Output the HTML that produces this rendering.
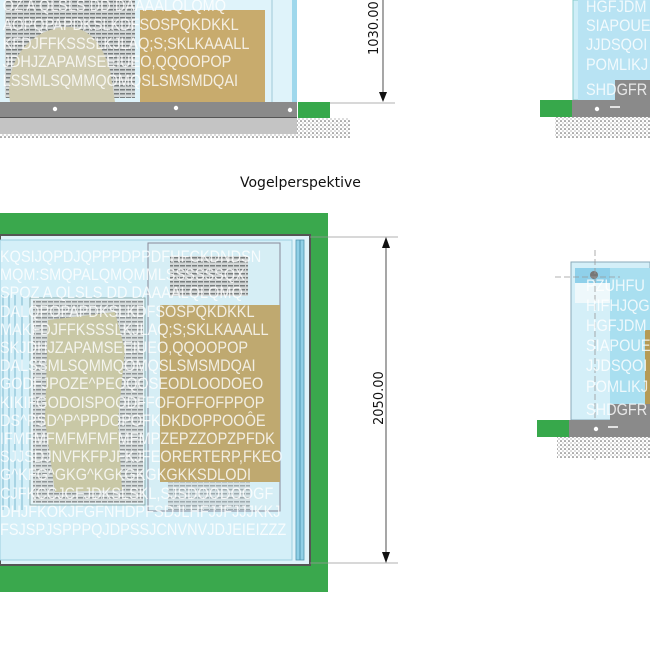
<!DOCTYPE html>
<html><head><meta charset="utf-8"><style>
html,body{margin:0;padding:0;background:#fff;width:650px;height:650px;overflow:hidden}
svg{display:block}
.w{fill:#fff;fill-opacity:.8;font-family:"Liberation Sans",sans-serif;font-size:16.5px}
.dim{font-family:"DejaVu Sans","Liberation Sans",sans-serif;font-size:13px;fill:#111}
</style></head><body>
<svg width="650" height="650" viewBox="0 0 650 650" xmlns="http://www.w3.org/2000/svg">
<defs>
<pattern id="dots" width="4" height="4" patternUnits="userSpaceOnUse"><rect width="4" height="4" fill="#fff"/><circle cx="1" cy="1" r="0.8" fill="#555"/><circle cx="3" cy="3" r="0.6" fill="#888"/></pattern>
<pattern id="txt" width="6" height="4" patternUnits="userSpaceOnUse"><rect width="6" height="4" fill="#d4d8d8"/><rect x="0" y="1" width="5" height="1.5" fill="#7a7f80"/></pattern>
</defs>

<!-- TOP ELEVATION -->
<rect x="0" y="0" width="297" height="102" fill="#dff3fa"/>
<rect x="5" y="0" width="130" height="98" fill="url(#txt)"/>
<path d="M10 102 C5 70 20 40 50 30 C80 20 100 35 110 70 L115 102 Z" fill="#cfcbb0"/>
<rect x="140" y="10" width="125" height="92" fill="#c8ab6d"/>
<line x1="272" y1="0" x2="272" y2="102" stroke="#9fc9d8"/>
<rect x="292" y="0" width="5" height="102" fill="#9fd8ec"/>
<g class="w" transform="scale(0.88,1)">
<text x="3" y="11">OZ A QLSLS DD DAAAALQLQMQ</text>
<text x="3" y="30">AOPQPAPDKSLKDFSOSPQKDKKL</text>
<text x="3" y="49">KFDJFFKSSSLKJLAQ;S;SKLKAAALL</text>
<text x="3" y="67">JDHJZAPAMSEEIUEO,QQOOPOP</text>
<text x="3" y="86">LSSMLSQMMQOMQSLSMSMDQAI</text>
</g>
<rect x="0" y="102" width="297" height="16" fill="#8a8a8a"/>
<rect x="0" y="117" width="297" height="1.5" fill="#555"/>
<rect x="0" y="118" width="297" height="16" fill="#c4c4c4"/>
<rect x="0" y="134" width="297" height="4" fill="url(#dots)"/>
<circle cx="55" cy="109" r="2.2" fill="#fff"/><circle cx="176" cy="108" r="2.2" fill="#fff"/><circle cx="290" cy="110" r="2.2" fill="#fff"/>
<rect x="298" y="102" width="32" height="16" fill="#37a84b"/>
<rect x="297" y="118" width="53" height="20" fill="url(#dots)"/>
<line x1="330" y1="103" x2="395" y2="103" stroke="#999" stroke-width="0.8"/>
<line x1="383" y1="0" x2="383" y2="96" stroke="#222" stroke-width="0.8"/>
<path d="M379 92 L387 92 L383 102 Z" fill="#111"/>
<text class="dim" transform="translate(378,55) rotate(-90)">1030.00</text>

<text x="240" y="187" font-family="DejaVu Sans, Liberation Sans, sans-serif" font-size="14" fill="#111">Vogelperspektive</text>

<!-- PLAN -->
<rect x="0" y="213" width="328" height="379" fill="#3aa84d"/>
<rect x="0" y="235" width="310" height="330" fill="#dff3fa"/>
<rect x="0" y="235" width="310" height="330" fill="none" stroke="#555" stroke-width="2"/>
<rect x="0" y="240" width="292" height="320" fill="#d4eff8" stroke="#9ccfe0"/>
<rect x="296" y="240" width="8" height="320" fill="#8fcfe6" stroke="#4f95b0" stroke-width="0.8"/>
<line x1="300" y1="240" x2="300" y2="560" stroke="#4f95b0"/>
<g stroke="#7db8d0"><line x1="3" y1="295" x2="3" y2="510"/><line x1="9" y1="295" x2="9" y2="510"/><line x1="15" y1="295" x2="15" y2="510"/><line x1="22" y1="295" x2="22" y2="510"/></g>
<rect x="30" y="298" width="115" height="207" fill="#e6f4f8" stroke="#8aa"/>
<rect x="33" y="300" width="110" height="203" fill="url(#txt)" opacity=".8"/>
<path d="M48 320 L115 312 L125 350 L118 420 L122 490 L55 492 L45 420 Z" fill="#c9c8a6"/>
<rect x="148" y="243" width="132" height="268" fill="#d6eef5" stroke="#889"/>
<rect x="170" y="256" width="78" height="40" fill="url(#txt)"/>
<rect x="160" y="305" width="120" height="177" fill="#bfa970"/>
<rect x="168" y="482" width="82" height="28" fill="url(#txt)" opacity=".6"/>
<g class="w" transform="scale(0.88,1)">
<text x="0" y="262">KQSIJQPDJQPPPDPPDFHFCKDNDSN</text>
<text x="0" y="280">MQM:SMQPALQMQMMLSSSSSSQX</text>
<text x="0" y="298">SPOZ A QLSLS DD DAAAALQLQMQ</text>
<text x="0" y="317">DALQPOPAPDKSLKDFSOSPQKDKKL</text>
<text x="0" y="335">MAKFDJFFKSSSLKJLAQ;S;SKLKAAALL</text>
<text x="0" y="353">SKJDHJZAPAMSEEIUEO,QQOOPOP</text>
<text x="0" y="371">DALSSMLSQMMQOMQSLSMSMDQAI</text>
<text x="0" y="389">GODFJPOZE^PEOQOSEODLOODOEO</text>
<text x="0" y="408">KIKIFGODOISPOODFFOFOFFOFPPOP</text>
<text x="0" y="426">DS^PSD^P^PPDOPOFKDKDOPPOOÔE</text>
<text x="0" y="444">IFMFMFMFMFMFMFMPZEPZZOPZPFDK</text>
<text x="0" y="462">SJJSDJNVFKFPJFKJFEORERTERP,FKEO</text>
<text x="0" y="480">G^KFG^GKG^KGKGKGKGKKSDLODI</text>
<text x="0" y="499">CJFKCCJCFJDKSLSKL,SJSDOODOOGF</text>
<text x="0" y="517">DHJFKOKJFGFNHDPFSDJLHFJJFJJJKKJ</text>
<text x="0" y="535">FSJSPJSPPPQJDPSSJCNVNVJDJEIEIZZZ</text>
</g>
<line x1="310" y1="237" x2="398" y2="237" stroke="#999" stroke-width="0.8"/>
<line x1="310" y1="563" x2="398" y2="563" stroke="#999" stroke-width="0.8"/>
<line x1="386" y1="245" x2="386" y2="555" stroke="#222" stroke-width="0.8"/>
<path d="M382 248 L390 248 L386 237 Z" fill="#111"/>
<path d="M382 552 L390 552 L386 563 Z" fill="#111"/>
<text class="dim" transform="translate(383,425) rotate(-90)">2050.00</text>

<!-- RIGHT TOP -->
<rect x="573" y="0" width="77" height="100" fill="#cfeef8" stroke="#8cc"/>
<rect x="578" y="0" width="72" height="100" fill="#b8e3f3"/>
<rect x="615" y="80" width="35" height="20" fill="#8a8a8a"/>
<g class="w" transform="translate(586,0) scale(0.88,1)">
<text x="0" y="12">HGFJDM</text><text x="0" y="31">SIAPOUE</text><text x="0" y="50">JJDSQOI</text><text x="0" y="70">POMLIKJ</text><text x="0" y="95">SHDGFR</text>
</g>
<rect x="572" y="100" width="78" height="17" fill="#8a8a8a"/>
<circle cx="597" cy="109" r="2.2" fill="#fff"/><line x1="610" y1="107" x2="620" y2="107" stroke="#fff" stroke-width="1.5"/>
<rect x="540" y="100" width="32" height="17" fill="#37a84b"/>
<rect x="555" y="117" width="95" height="21" fill="url(#dots)"/>

<!-- RIGHT BOTTOM -->
<rect x="571" y="262" width="79" height="158" fill="#d4eff8" stroke="#8aaab8"/>
<rect x="575" y="268" width="75" height="15" fill="#8fd0ea"/>
<rect x="575" y="283" width="75" height="20" fill="#eef8fb"/>
<rect x="610" y="268" width="40" height="152" fill="#a9dff0"/>
<rect x="645" y="330" width="5" height="90" fill="#b59a55"/>
<rect x="610" y="404" width="40" height="16" fill="#8a8a8a"/>
<circle cx="594" cy="275" r="4" fill="#777"/>
<line x1="595" y1="250" x2="595" y2="460" stroke="#999" stroke-dasharray="6 3" stroke-width="0.8"/>
<line x1="555" y1="277" x2="620" y2="277" stroke="#999" stroke-dasharray="6 3" stroke-width="0.8"/>
<g class="w" transform="translate(586,0) scale(0.88,1)">
<text x="0" y="291">PZUHFU</text><text x="0" y="311">HIFHJQG</text><text x="0" y="331">HGFJDM</text><text x="0" y="351">SIAPOUE</text><text x="0" y="371">JJDSQOI</text><text x="0" y="392">POMLIKJ</text><text x="0" y="415">SHDGFR</text>
</g>
<rect x="569" y="420" width="81" height="17" fill="#8a8a8a"/>
<circle cx="596" cy="429" r="2.2" fill="#fff"/><line x1="608" y1="427" x2="618" y2="427" stroke="#fff" stroke-width="1.5"/>
<rect x="537" y="420" width="32" height="17" fill="#37a84b"/>
<rect x="557" y="437" width="93" height="21" fill="url(#dots)"/>
</svg>
</body></html>
